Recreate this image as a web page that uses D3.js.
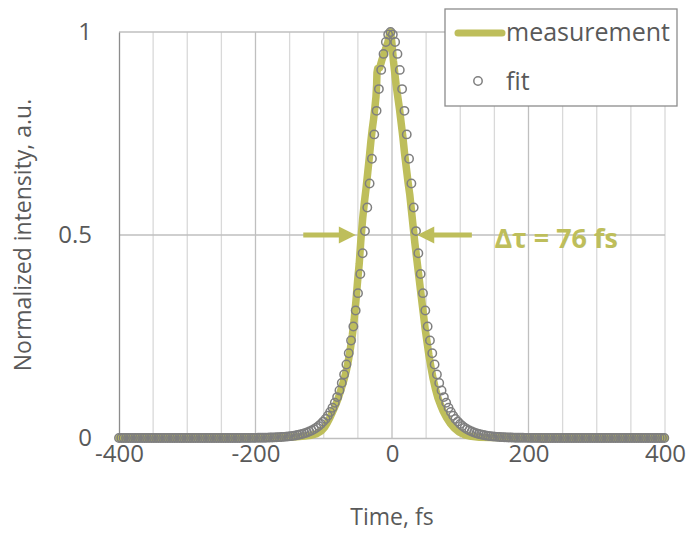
<!DOCTYPE html>
<html>
<head>
<meta charset="utf-8">
<script src="https://cdn.jsdelivr.net/npm/d3@7"></script>
<style>
  body { margin: 0; background: #fff; }
  text { font-family: "Open Sans", sans-serif; }
</style>
</head>
<body>
<svg id="chart" width="687" height="533"></svg>
<script>
// Fit samples (time in fs, normalized intensity)
const fitTime = [
  -400, -396.6, -393.2, -389.8, -386.4, -383, -379.6, -376.2, -372.8, -369.4,
  -366, -362.6, -359.2, -355.8, -352.4, -349, -345.6, -342.2, -338.8, -335.4,
  -332, -328.6, -325.2, -321.8, -318.4, -315, -311.6, -308.2, -304.8, -301.4,
  -298, -294.6, -291.2, -287.8, -284.4, -281, -277.6, -274.2, -270.8, -267.4,
  -264, -260.6, -257.2, -253.8, -250.4, -247, -243.6, -240.2, -236.8, -233.4,
  -230, -226.6, -223.2, -219.8, -216.4, -213, -209.6, -206.2, -202.8, -199.4,
  -196, -192.6, -189.2, -185.8, -182.4, -179, -175.6, -172.2, -168.8, -165.4,
  -162, -158.6, -155.2, -151.8, -148.4, -145, -141.6, -138.2, -134.8, -131.4,
  -128, -124.6, -121.2, -117.8, -114.4, -111, -107.6, -104.2, -100.8, -97.4,
  -94, -90.6, -87.2, -83.8, -80.4, -77, -73.6, -70.2, -66.8, -63.4,
  -60, -56.6, -53.2, -49.8, -46.4, -43, -39.6, -36.2, -32.8, -29.4,
  -26, -22.6, -19.2, -15.8, -12.4, -9, -5.6, -2.2, 1.2, 4.6,
  8, 11.4, 14.8, 18.2, 21.6, 25, 28.4, 31.8, 35.2, 38.6,
  42, 45.4, 48.8, 52.2, 55.6, 59, 62.4, 65.8, 69.2, 72.6,
  76, 79.4, 82.8, 86.2, 89.6, 93, 96.4, 99.8, 103.2, 106.6,
  110, 113.4, 116.8, 120.2, 123.6, 127, 130.4, 133.8, 137.2, 140.6,
  144, 147.4, 150.8, 154.2, 157.6, 161, 164.4, 167.8, 171.2, 174.6,
  178, 181.4, 184.8, 188.2, 191.6, 195, 198.4, 201.8, 205.2, 208.6,
  212, 215.4, 218.8, 222.2, 225.6, 229, 232.4, 235.8, 239.2, 242.6,
  246, 249.4, 252.8, 256.2, 259.6, 263, 266.4, 269.8, 273.2, 276.6,
  280, 283.4, 286.8, 290.2, 293.6, 297, 300.4, 303.8, 307.2, 310.6,
  314, 317.4, 320.8, 324.2, 327.6, 331, 334.4, 337.8, 341.2, 344.6,
  348, 351.4, 354.8, 358.2, 361.6, 365, 368.4, 371.8, 375.2, 378.6,
  382, 385.4, 388.8, 392.2, 395.6, 399
];
const fitIntensity = [
  0, 0, 0, 0, 0, 0, 0, 0, 0, 0, 0, 0, 0,
  0, 0, 0, 0, 0, 0, 0, 0, 0, 0, 0, 0, 0,
  0, 0, 0, 0, 0, 0, 0, 0, 0, 0, 0, 0, 0,
  0, 0, 0, 0, 0, 0, 0, 0, 0, 0, 0, 0, 0,
  .0001, .0002, .0002, .0002, .0003, .0003, .0004, .0004, .0005, .0006,
  .0007, .0008, .0009, .0011, .0013, .0015, .0018, .0021, .0024, .0028,
  .0033, .0039, .0045, .0053, .0062, .0073, .0085, .0099, .0116, .0136,
  .0159, .0186, .0217, .0253, .0296, .0346, .0404, .0471, .0549, .064,
  .0745, .0867, .1007, .1169, .1355, .1567, .181, .2086, .24, .2748,
  .3141, .3568, .404, .4552, .5096, .5676, .627, .6877, .7478, .8058,
  .8593, .9067, .946, .9755, .9938,
  1,
  .9938, .9755, .946, .9067, .8593,
  .8058, .7478, .6877, .627, .5676, .5096, .4552, .404, .3568, .3141,
  .2748, .24, .2086, .181, .1567, .1355, .1169, .1007, .0867, .0745,
  .064, .0549, .0471, .0404, .0346, .0296, .0253, .0217, .0186, .0159,
  .0136, .0116, .0099, .0085, .0073, .0062, .0053, .0045, .0039, .0033,
  .0028, .0024, .0021, .0018, .0015, .0013, .0011, .0009, .0008, .0007,
  .0006, .0005, .0004, .0004, .0003, .0003, .0002, .0002, .0002, .0001,
  0, 0, 0, 0, 0, 0, 0, 0, 0, 0, 0, 0, 0,
  0, 0, 0, 0, 0, 0, 0, 0, 0, 0, 0, 0, 0,
  0, 0, 0, 0, 0, 0, 0, 0, 0, 0, 0, 0, 0,
  0, 0, 0, 0, 0, 0, 0, 0, 0, 0, 0, 0, 0, 0
];

const measTime = [
  -400, -360, -320, -290, -260, -230, -200, -175, -155, -140,
  -128, -118, -110, -104, -99, -95, -91, -87, -83, -79,
  -75, -71, -67, -64, -61, -58, -55.5, -53, -50.5, -48,
  -45.5, -43, -40.5, -38, -35.5, -33, -31, -29, -27, -25,
  -23.5, -22.5, -22, -21, -18, -15, -12, -9, -6, -3.5,
  -2, 0, 2, 4, 6, 8.5, 11, 13.5, 16, 18.5,
  21, 23.5, 26, 28.5, 31, 33.5, 36, 38.5, 41, 43.5,
  46, 48.5, 51, 54, 57, 60, 63.5, 67, 71, 75,
  80, 85, 91, 98, 106, 116, 128, 145, 170, 200,
  240, 280, 320, 360, 400
];
const measIntensity = [
  0, .001, .002, .003, .002, .001, .001, .001, .002, .003,
  .005, .007, .011, .017, .026, .037, .05, .065, .08, .097,
  .118, .14, .165, .19, .22, .255, .29, .335, .385, .43,
  .49, .54, .58, .615, .655, .695, .73, .76, .785, .815,
  .84, .87, .9, .91, .912, .93, .945, .96, .975, .995,
  1, .97, .93, .9, .87, .84, .81, .775, .74, .7,
  .665, .63, .6, .56, .52, .48, .445, .41, .375, .34,
  .305, .27, .24, .205, .175, .148, .122, .1, .082, .066,
  .05, .037, .025, .015, .008, .004, .002, .001, .002, .001,
  .002, .001, .002, .001, 0
];

// Axis ticks and gridlines
const xTicks = [-400, -200, 0, 200, 400];
const xGrid = [-350, -300, -250, -200, -150, -100, -50, 0, 50, 100, 150, 200, 250, 300, 350, 400];
const yTicks = [0, 0.5, 1];

// FWHM annotation
const fwhmLabel = 'Δτ = 76 fs';
const fwhmEdges = [-53, 37];
const arrowTails = [-130, 117];

const olive = '#bebe5b';
const grey = '#7f7f7f';
const textColor = '#595959';

const margin = { top: 32, right: 22, bottom: 95, left: 119 };
const width = 687 - margin.left - margin.right;
const height = 533 - margin.top - margin.bottom;

const svg = d3.select('#chart');
const g = svg.append('g').attr('transform', `translate(${margin.left},${margin.top})`);

const x = d3.scaleLinear().domain([-400, 400]).range([0, width]);
const y = d3.scaleLinear().domain([0, 1]).range([height, 0]);

// Vertical gridlines
g.append('g')
  .selectAll('line')
  .data(xGrid)
  .join('line')
    .attr('x1', d => x(d)).attr('x2', d => x(d))
    .attr('y1', 0).attr('y2', height)
    .attr('stroke', d => (d % 200 === 0 && d !== 400) ? '#bfbfbf' : '#d9d9d9')
    .attr('stroke-width', 1.3);

// Horizontal gridlines
g.append('g')
  .selectAll('line')
  .data(yTicks.filter(d => d > 0))
  .join('line')
    .attr('x1', 0).attr('x2', width)
    .attr('y1', d => y(d)).attr('y2', d => y(d))
    .attr('stroke', '#bfbfbf')
    .attr('stroke-width', 1.3);

// X axis (plain hyphen for negatives, as in the original)
const xAxis = g.append('g')
  .attr('transform', `translate(0,${height})`)
  .call(d3.axisBottom(x).tickValues(xTicks).tickFormat(d => String(d)).tickSize(0).tickPadding(7));
xAxis.select('.domain').attr('stroke', '#bfbfbf').attr('stroke-width', 1.3);
xAxis.selectAll('text')
  .attr('fill', textColor)
  .style('font-size', '24px')
  .style('font-family', '"Open Sans", sans-serif');

// Y axis
const yAxis = g.append('g')
  .call(d3.axisLeft(y).tickValues(yTicks).tickFormat(d => String(d)).tickSize(0).tickPadding(27));
yAxis.select('.domain').attr('stroke', '#8c8c8c').attr('stroke-width', 1.3);
yAxis.selectAll('text')
  .attr('fill', textColor)
  .style('font-size', '24px')
  .style('font-family', '"Open Sans", sans-serif');

// Axis titles
svg.append('text')
  .attr('x', margin.left + x(0))
  .attr('y', 525)
  .attr('text-anchor', 'middle')
  .attr('fill', textColor)
  .style('font-size', '23px')
  .text('Time, fs');

svg.append('text')
  .attr('transform', `translate(31, ${margin.top + height / 2}) rotate(-90)`)
  .attr('text-anchor', 'middle')
  .attr('fill', textColor)
  .style('font-size', '23px')
  .text('Normalized intensity, a.u.');

// Measurement line
const measData = measTime.map((t, i) => ({ t, v: measIntensity[i] }));
const line = d3.line()
  .x(d => x(d.t))
  .y(d => y(d.v));

g.append('path')
  .datum(measData)
  .attr('d', line)
  .attr('fill', 'none')
  .attr('stroke', olive)
  .attr('stroke-width', 7.5)
  .attr('stroke-linejoin', 'round')
  .attr('stroke-linecap', 'round');

// Fit markers
g.append('g')
  .selectAll('circle')
  .data(fitTime.map((t, i) => ({ t, v: fitIntensity[i] })))
  .join('circle')
    .attr('cx', d => x(d.t))
    .attr('cy', d => y(d.v))
    .attr('r', 4.2)
    .attr('fill', 'none')
    .attr('stroke', grey)
    .attr('stroke-width', 1.5);

// FWHM arrows
const arrow = (tail, tip) => {
  const x0 = x(tail), x1 = x(tip), yy = y(0.5);
  const dir = Math.sign(x1 - x0);
  const headLen = 17, headHalf = 8.5, shaftHalf = 2.6;
  const xb = x1 - dir * headLen;
  return `M${x0},${yy - shaftHalf}L${xb},${yy - shaftHalf}L${xb},${yy - headHalf}` +
    `L${x1},${yy}L${xb},${yy + headHalf}L${xb},${yy + shaftHalf}L${x0},${yy + shaftHalf}Z`;
};
g.append('g')
  .selectAll('path')
  .data([0, 1])
  .join('path')
    .attr('d', i => arrow(arrowTails[i], fwhmEdges[i]))
    .attr('fill', olive);

g.append('text')
  .attr('x', x(150))
  .attr('y', y(0.5) + 13)
  .attr('fill', olive)
  .style('font-size', '27px')
  .style('font-weight', 'bold')
  .text(fwhmLabel);

// Legend
const legend = svg.append('g').attr('transform', 'translate(445,9)');
legend.append('rect')
  .attr('width', 232).attr('height', 97)
  .attr('fill', '#fff')
  .attr('stroke', '#8c8c8c')
  .attr('stroke-width', 1.3);
legend.append('line')
  .attr('x1', 13).attr('x2', 57)
  .attr('y1', 24).attr('y2', 24)
  .attr('stroke', olive).attr('stroke-width', 7)
  .attr('stroke-linecap', 'round');
legend.append('text')
  .attr('x', 61).attr('y', 32)
  .attr('fill', textColor)
  .style('font-size', '25px')
  .text('measurement');
legend.append('circle')
  .attr('cx', 33).attr('cy', 72).attr('r', 4.2)
  .attr('fill', 'none').attr('stroke', grey).attr('stroke-width', 1.5);
legend.append('text')
  .attr('x', 61).attr('y', 81)
  .attr('fill', textColor)
  .style('font-size', '25px')
  .text('fit');
</script>
</body>
</html>
